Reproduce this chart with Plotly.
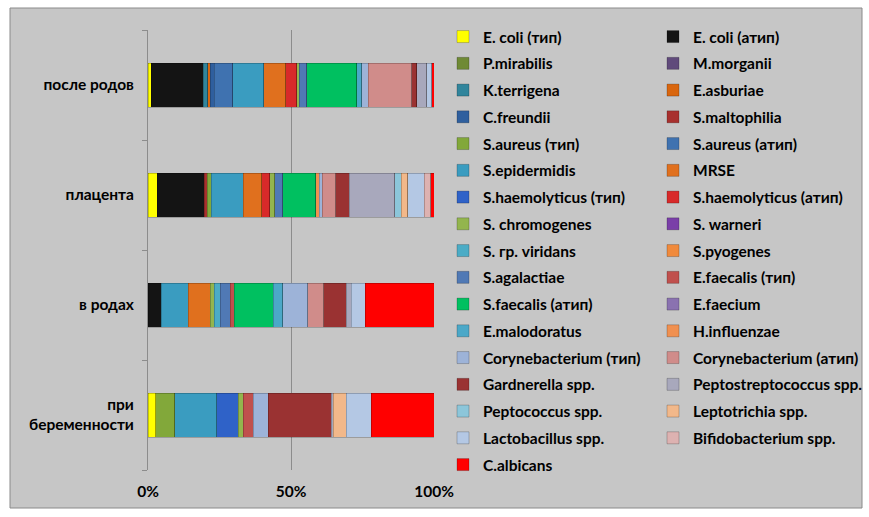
import plotly.graph_objects as go

# Categories, bottom to top
categories = ["при<br>беременности", "в родах", "плацента", "после родов"]

# Percent axis ticks
x_ticks = [0, 50, 100]
x_tick_labels = ["0%", "50%", "100%"]

species = [
    "E. coli (тип)", "E. coli (атип)",
    "P.mirabilis", "M.morganii",
    "K.terrigena", "E.asburiae",
    "C.freundii", "S.maltophilia",
    "S.aureus (тип)", "S.aureus (атип)",
    "S.epidermidis", "MRSE",
    "S.haemolyticus (тип)", "S.haemolyticus (атип)",
    "S. chromogenes", "S. warneri",
    "S. гр. viridans", "S.pyogenes",
    "S.agalactiae", "E.faecalis (тип)",
    "S.faecalis (атип)", "E.faecium",
    "E.malodoratus", "H.influenzae",
    "Corynebacterium (тип)", "Corynebacterium (атип)",
    "Gardnerella spp.", "Peptostreptococcus spp.",
    "Peptococcus spp.", "Leptotrichia spp.",
    "Lactobacillus spp.", "Bifidobacterium spp.",
    "C.albicans",
]

colors = [
    "#FFFF00", "#141414",
    "#6F8A35", "#604A7B",
    "#31859C", "#D9660E",
    "#2F5F9E", "#A8302E",
    "#82A83A", "#3F72B0",
    "#3A9CC0", "#E0701E",
    "#2F62C8", "#D82A2A",
    "#93B54E", "#7A3FA8",
    "#4BACC6", "#F08A3C",
    "#5079B5", "#C0504D",
    "#00C060", "#8A72B0",
    "#4BA8C8", "#F09050",
    "#9DB3D8", "#D08C8A",
    "#9A3232", "#A8A8BC",
    "#8CC6DA", "#F2B88A",
    "#B4C8E4", "#DDB2B1",
    "#FF0000",
]

# Share of each species per category (same order as `species`)
pregnancy = [2.7, 0, 0, 0, 0, 0, 0, 0, 6.7, 0, 14.6, 0, 7.6, 0, 1.7, 0, 0, 0,
             0, 3.5, 0, 0, 0, 0, 5.3, 0, 22.0, 0.8, 0, 4.5, 8.8, 0, 21.9]
labour = [0, 4.7, 0, 0, 0, 0, 0, 0, 0, 0, 9.4, 7.6, 0, 0, 1.4, 0, 2.1, 0,
          3.5, 1.4, 13.6, 0, 3.2, 0, 8.8, 5.6, 7.8, 1.7, 0, 0, 5.0, 0, 23.9]
placenta = [3.2, 16.5, 0, 0, 0, 0, 0, 1.0, 1.5, 0, 11.1, 6.4, 0, 2.9, 1.7, 0, 0, 0,
            2.9, 0, 11.5, 0, 0, 1.2, 1.1, 4.7, 4.7, 15.8, 2.3, 2.3, 5.8, 2.3, 1.1]
postpartum = [1.2, 18.1, 0, 0, 1.5, 0.8, 1.4, 0, 0, 6.5, 10.8, 7.6, 0, 3.9, 0.8, 0, 0, 0,
              2.6, 0, 17.5, 0, 1.7, 0, 2.3, 15.2, 1.7, 3.5, 0, 0, 1.7, 0, 0.8]

W, H = 869, 517
# Outer margins are kept small so the tall legends get room;
# the axes themselves sit inside via their domains.
M_L, M_R, M_T, M_B = 148, 435, 10, 17
PW, PH = W - M_L - M_R, H - M_T - M_B
PLOT_TOP, PLOT_BOTTOM = 30, 470


def px_x(px):
    return (px - M_L) / PW


def px_y(py):
    return (H - M_B - py) / PH


FONT = "Lato"
FONT_SIZE = 15.5

fig = go.Figure()
for i, name in enumerate(species):
    vals = [pregnancy[i], labour[i], placenta[i], postpartum[i]]
    vals = [v if v else None for v in vals]
    fig.add_trace(go.Bar(
        y=categories, x=vals, name=name, orientation="h",
        marker=dict(color=colors[i], line=dict(color="rgba(0,0,0,0.35)", width=0.6)),
        legend="legend" if i % 2 == 0 else "legend2",
        legendgroup=name,
    ))

legend_common = dict(
    xanchor="left", yanchor="top", orientation="v",
    bgcolor="rgba(0,0,0,0)", tracegroupgap=3.6,
    font=dict(family=FONT, size=FONT_SIZE, color="#000000", weight="bold"),
    itemclick=False,
)

fig.update_layout(
    width=W, height=H,
    margin=dict(l=M_L, r=M_R, t=M_T, b=M_B, autoexpand=False),
    barmode="stack", barnorm="percent", bargap=0.6,
    paper_bgcolor="#FFFFFF", plot_bgcolor="#F0F0F0",
    font=dict(family=FONT, size=FONT_SIZE, color="#000000", weight="bold"),
    legend=dict(x=px_x(443), y=px_y(20), **legend_common),
    legend2=dict(x=px_x(653), y=px_y(20), **legend_common),
    shapes=[dict(
        type="rect", xref="paper", yref="paper", layer="below",
        x0=px_x(10), x1=px_x(862), y0=px_y(508), y1=px_y(8),
        fillcolor="#C6C6C6", line=dict(color="#8A8A8A", width=1),
    )],
    xaxis=dict(
        range=[0, 100], tickvals=x_ticks, ticktext=x_tick_labels,
        showgrid=True, gridcolor="#8C8C8C", gridwidth=1,
        zeroline=False, showline=False, ticks="", ticklabelstandoff=10,
        fixedrange=True,
    ),
    yaxis=dict(
        domain=[px_y(PLOT_BOTTOM), px_y(PLOT_TOP)],
        categoryorder="array", categoryarray=categories,
        showline=True, linecolor="#8C8C8C", linewidth=1,
        ticks="outside", tickson="boundaries", ticklen=5, tickcolor="#8C8C8C",
        ticklabelstandoff=10, showgrid=False, fixedrange=True,
    ),
)

fig.write_html("out.html")
